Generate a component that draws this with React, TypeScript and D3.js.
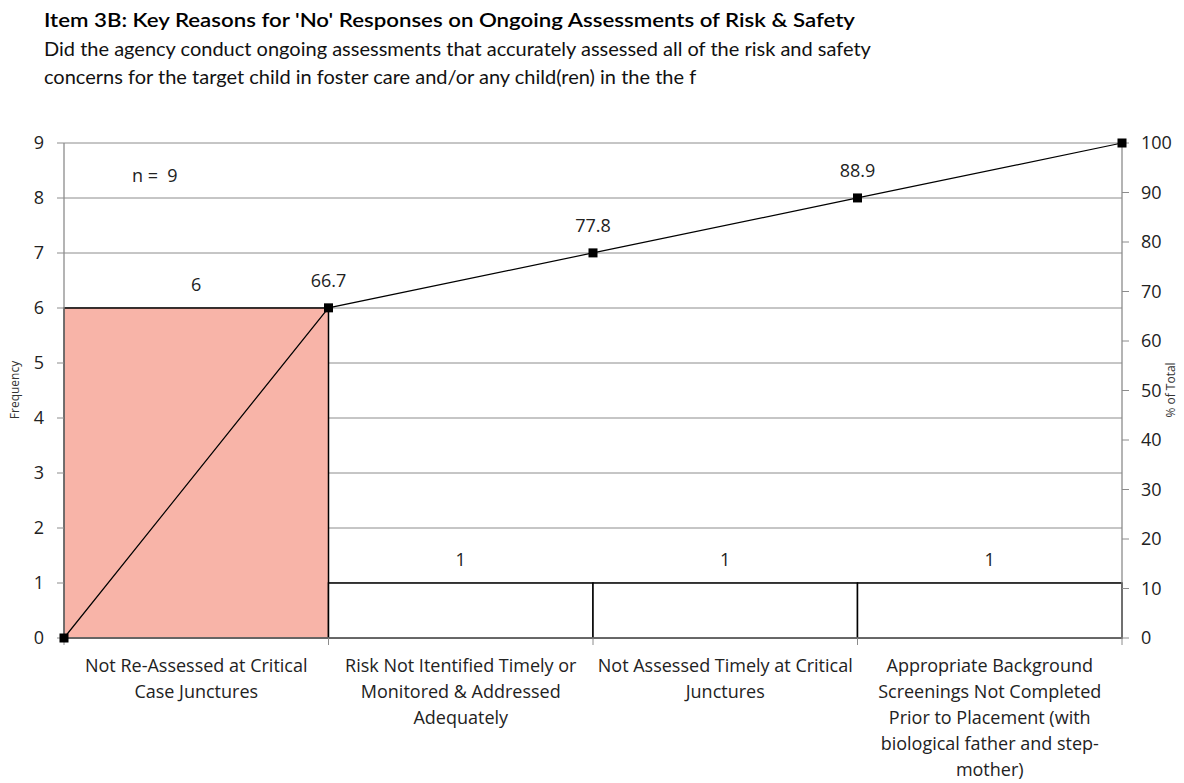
import React from "react";
import * as d3 from "d3";

const categories = [
  "Not Re-Assessed at Critical\nCase Junctures",
  "Risk Not Itentified Timely or\nMonitored & Addressed\nAdequately",
  "Not Assessed Timely at Critical\nJunctures",
  "Appropriate Background\nScreenings Not Completed\nPrior to Placement (with\nbiological father and step-\nmother)",
];
const frequency = [6, 1, 1, 1];
const cumulativePct = [0, 66.7, 77.8, 88.9, 100];
const leftTicks = [0, 1, 2, 3, 4, 5, 6, 7, 8, 9];
const rightTicks = [0, 10, 20, 30, 40, 50, 60, 70, 80, 90, 100];
const barColors = ["#F8B4A8", "#FFFFFF", "#FFFFFF", "#FFFFFF"];

const W = 1184, H = 783;
const L = 64, R = 1122, T = 143, B = 638;
const FONT = "'Open Sans', 'Noto Sans', sans-serif";
const TFONT = "Lato, 'Open Sans', sans-serif";

export default function App() {
  const x = d3.scaleBand<number>().domain(d3.range(categories.length)).range([L, R]).padding(0);
  const xEdge = d3.scaleLinear().domain([0, categories.length]).range([L, R]);
  const y = d3.scaleLinear().domain([0, 9]).range([B, T]);
  const y2 = d3.scaleLinear().domain([0, 100]).range([B, T]);
  const line = d3.line<number>().x((_, i) => xEdge(i)).y((d) => y2(d));
  const bw = x.bandwidth();

  return (
    <svg width={W} height={H} style={{ position: "absolute", left: 0, top: 0, background: "#fff" }} fontFamily={FONT}>
      <text x={44} y={27} fontSize={19} fontWeight={600} fill="#000" fontFamily={TFONT} textLength={811} lengthAdjust="spacingAndGlyphs">
        Item 3B: Key Reasons for 'No' Responses on Ongoing Assessments of Risk &amp; Safety
      </text>
      <text x={44} y={56} fontSize={20} fill="#111" fontFamily={TFONT}>
        Did the agency conduct ongoing assessments that accurately assessed all of the risk and safety
      </text>
      <text x={44} y={84} fontSize={20} fill="#111" fontFamily={TFONT}>
        concerns for the target child in foster care and/or any child(ren) in the the f
      </text>

      {/* gridlines */}
      {leftTicks.map((t) => (
        <line key={"g" + t} x1={L} x2={R} y1={y(t)} y2={y(t)} stroke="#8c8c8c" strokeWidth={1} />
      ))}

      {/* bars */}
      {frequency.map((v, i) => (
        <rect key={"b" + i} x={x(i)!} y={y(v)} width={bw} height={y(0) - y(v)} fill={barColors[i]} stroke="#000" strokeWidth={1.5} />
      ))}

      {/* axes */}
      <line x1={L} x2={L} y1={T} y2={B} stroke="#8c8c8c" strokeWidth={1.3} />
      <line x1={R} x2={R} y1={T} y2={B} stroke="#8c8c8c" strokeWidth={1.3} />
      <line x1={L} x2={R} y1={B} y2={B} stroke="#777" strokeWidth={1.3} />
      {leftTicks.map((t) => (
        <g key={"lt" + t}>
          <line x1={L - 7} x2={L} y1={y(t)} y2={y(t)} stroke="#8c8c8c" />
          <text x={44} y={y(t)} dy="0.35em" textAnchor="end" fontSize={18} fill="#222">{t}</text>
        </g>
      ))}
      {rightTicks.map((t) => (
        <g key={"rt" + t}>
          <line x1={R} x2={R + 7} y1={y2(t)} y2={y2(t)} stroke="#8c8c8c" />
          <text x={1141} y={y2(t)} dy="0.35em" textAnchor="start" fontSize={18} fill="#222">{t}</text>
        </g>
      ))}
      {d3.range(categories.length + 1).map((i) => (
        <line key={"xt" + i} x1={xEdge(i)} x2={xEdge(i)} y1={B} y2={B + 7} stroke="#8c8c8c" />
      ))}

      {/* category labels */}
      {categories.map((c, i) => (
        <text key={"c" + i} x={x(i)! + bw / 2} y={672} textAnchor="middle" fontSize={18} fill="#222">
          {c.split("\n").map((ln, j) => (
            <tspan key={j} x={x(i)! + bw / 2} dy={j === 0 ? 0 : 26}>{ln}</tspan>
          ))}
        </text>
      ))}

      {/* bar value labels */}
      {frequency.map((v, i) => (
        <text key={"v" + i} x={x(i)! + bw / 2} y={y(v) - 17} textAnchor="middle" fontSize={18} fill="#222">{v}</text>
      ))}

      {/* cumulative line */}
      <path d={line(cumulativePct) || ""} fill="none" stroke="#000" strokeWidth={1.2} />
      {cumulativePct.map((p, i) => (
        <rect key={"m" + i} x={xEdge(i) - 4.5} y={y2(p) - 4.5} width={9} height={9} fill="#000" />
      ))}
      {cumulativePct.map((p, i) =>
        i > 0 && i < cumulativePct.length - 1 ? (
          <text key={"pl" + i} x={xEdge(i)} y={y2(p) - 21} textAnchor="middle" fontSize={18} fill="#222">{p.toFixed(1)}</text>
        ) : null
      )}

      <text x={132} y={182} fontSize={18} fill="#222" style={{ whiteSpace: "pre" }}>{"n =  9"}</text>

      <text transform={`translate(19,390) rotate(-90)`} textAnchor="middle" fontSize={12} fill="#333">Frequency</text>
      <text transform={`translate(1175,390) rotate(-90)`} textAnchor="middle" fontSize={12} fill="#333">% of Total</text>
    </svg>
  );
}
